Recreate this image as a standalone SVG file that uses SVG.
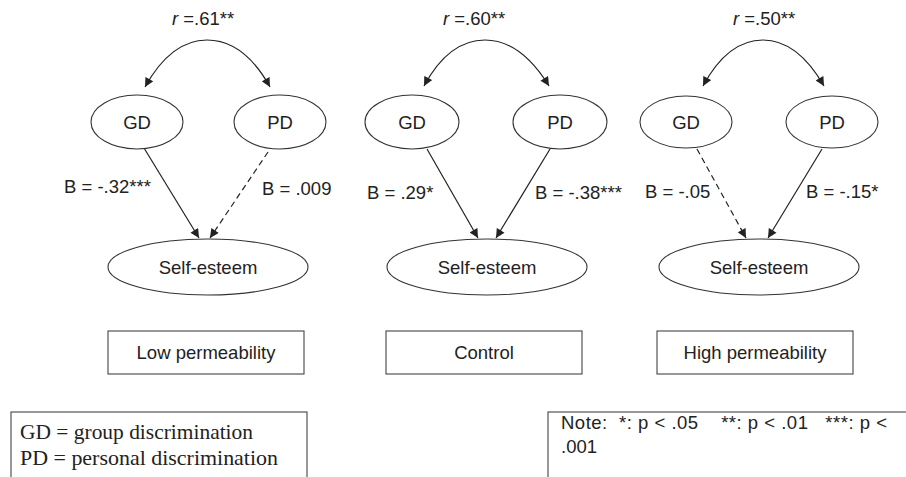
<svg xmlns="http://www.w3.org/2000/svg" width="906" height="477" viewBox="0 0 906 477">
<style>
  .t { font-family: "Liberation Sans", Arial, sans-serif; font-size: 18.5px; fill: #222; }
  .c { text-anchor: middle; }
  .serif { font-family: "Liberation Serif", "Times New Roman", serif; font-size: 21px; fill: #222; }
  .node { fill: #fff; stroke: #333; stroke-width: 1.1; }
  .box { fill: #fff; stroke: #444; stroke-width: 1.1; }
  .edge { fill: none; stroke: #222; stroke-width: 1.2; }
  .dash { stroke-dasharray: 6 4; }
</style>
<defs>
  <marker id="ah" viewBox="0 0 10 10" refX="10" refY="5" markerWidth="10" markerHeight="9" markerUnits="userSpaceOnUse" orient="auto">
    <path d="M0,0 L10,5 L0,10 z" fill="#222"/>
  </marker>
</defs>
<rect width="906" height="477" fill="#fff"/>

<g id="connectors">
  <!-- panel 1 -->
  <path class="edge" d="M207,40 C180,40 160,60 145,87" marker-end="url(#ah)"/>
  <path class="edge" d="M207,40 C234,40 255,60 270,87" marker-end="url(#ah)"/>
  <line class="edge" x1="144" y1="148" x2="199" y2="238" marker-end="url(#ah)"/>
  <line class="edge dash" x1="268" y1="152" x2="210" y2="238" marker-end="url(#ah)"/>
  <!-- panel 2 -->
  <path class="edge" d="M485,40 C458,40 438,60 424,86" marker-end="url(#ah)"/>
  <path class="edge" d="M485,40 C512,40 533,60 549,86" marker-end="url(#ah)"/>
  <line class="edge" x1="427" y1="149" x2="478" y2="238" marker-end="url(#ah)"/>
  <line class="edge" x1="550" y1="149" x2="496" y2="238" marker-end="url(#ah)"/>
  <!-- panel 3 -->
  <path class="edge" d="M763,40 C737,40 717,60 703,86" marker-end="url(#ah)"/>
  <path class="edge" d="M763,40 C789,40 809,60 824,86" marker-end="url(#ah)"/>
  <line class="edge dash" x1="697" y1="149" x2="746" y2="238" marker-end="url(#ah)"/>
  <line class="edge" x1="822" y1="149" x2="768" y2="238" marker-end="url(#ah)"/>
</g>

<g id="labels">
  <text class="t c" x="203" y="25"><tspan font-style="italic">r</tspan> =.61**</text>
  <text class="t c" x="474" y="25"><tspan font-style="italic">r</tspan> =.60**</text>
  <text class="t c" x="764" y="25"><tspan font-style="italic">r</tspan> =.50**</text>
  <text class="t" x="64" y="193">B = -.32***</text>
  <text class="t" x="262" y="195">B = .009</text>
  <text class="t" x="367" y="199">B = .29*</text>
  <text class="t" x="535" y="199">B = -.38***</text>
  <text class="t" x="645" y="198">B = -.05</text>
  <text class="t" x="806" y="198">B = -.15*</text>
</g>

<g id="gd1"><ellipse class="node" cx="137" cy="122" rx="46" ry="27"/><text class="t c" x="137" y="128.5">GD</text></g>
<g id="pd1"><ellipse class="node" cx="280" cy="122" rx="46" ry="27"/><text class="t c" x="280" y="128.5">PD</text></g>
<g id="se1"><ellipse class="node" cx="208" cy="267" rx="100" ry="28"/><text class="t c" x="208" y="273.5">Self-esteem</text></g>

<g id="gd2"><ellipse class="node" cx="412" cy="122" rx="47" ry="27"/><text class="t c" x="412" y="128.5">GD</text></g>
<g id="pd2"><ellipse class="node" cx="560" cy="122" rx="47" ry="27"/><text class="t c" x="560" y="128.5">PD</text></g>
<g id="se2"><ellipse class="node" cx="487" cy="267" rx="100" ry="28"/><text class="t c" x="487" y="273.5">Self-esteem</text></g>

<g id="gd3"><ellipse class="node" cx="686" cy="122" rx="46" ry="26"/><text class="t c" x="686" y="128.5">GD</text></g>
<g id="pd3"><ellipse class="node" cx="832" cy="122" rx="46" ry="26"/><text class="t c" x="832" y="128.5">PD</text></g>
<g id="se3"><ellipse class="node" cx="759" cy="267" rx="100" ry="28"/><text class="t c" x="759" y="273.5">Self-esteem</text></g>

<g id="box-low"><rect class="box" x="108" y="331" width="196" height="43"/><text class="t c" x="206" y="358.5">Low permeability</text></g>
<g id="box-control"><rect class="box" x="386" y="331" width="196" height="43"/><text class="t c" x="484" y="358.5">Control</text></g>
<g id="box-high"><rect class="box" x="657" y="331" width="196" height="43"/><text class="t c" x="755" y="358.5">High permeability</text></g>

<g id="legend">
  <rect class="box" x="11" y="412" width="296" height="80"/>
  <text class="serif" x="20" y="439" textLength="233" lengthAdjust="spacingAndGlyphs">GD = group discrimination</text>
  <text class="serif" x="20" y="465" textLength="258" lengthAdjust="spacingAndGlyphs">PD = personal discrimination</text>
</g>

<g id="note">
  <rect class="box" x="548" y="412" width="380" height="80"/>
  <text class="t" x="561" y="429" xml:space="preserve" textLength="326" lengthAdjust="spacing">Note:  *: p &lt; .05    **: p &lt; .01   ***: p &lt;</text>
  <text class="t" x="561" y="453">.001</text>
</g>
</svg>
